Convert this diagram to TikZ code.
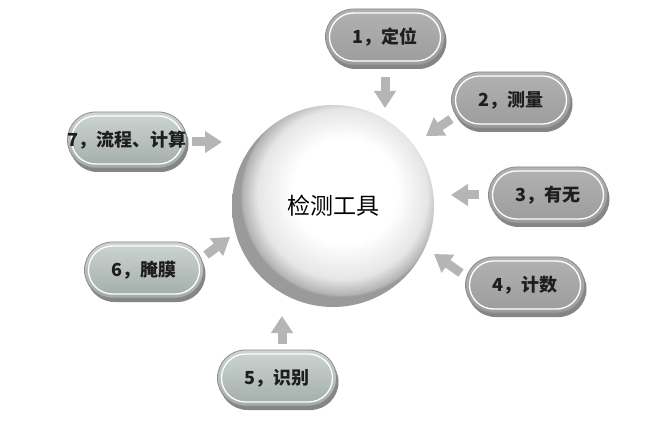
\documentclass[tikz,border=0pt]{standalone}
\usepackage{fontspec}
\newfontfamily\cjk{Noto Sans CJK SC}
\usetikzlibrary{arrows.meta,shadows}
\definecolor{graytop}{HTML}{B2B2B2}
\definecolor{graybot}{HTML}{9C9C9C}
\definecolor{greentop}{HTML}{CDD5D1}
\definecolor{greenbot}{HTML}{A3ADA8}
\definecolor{pillborder}{HTML}{8C8C8C}
\definecolor{shadowgray}{HTML}{858585}
\definecolor{arrowgray}{HTML}{B5B5B5}
\definecolor{ballmid}{HTML}{E6E6E6}
\definecolor{ballrim}{HTML}{9A9A9A}
\definecolor{textdark}{HTML}{1E1E1E}
\pgfdeclareradialshading{ball}{\pgfpoint{4bp}{5bp}}{color(0bp)=(white);color(13bp)=(white);color(21bp)=(ballmid);color(24.5bp)=(ballrim!75!white);color(25bp)=(ballrim);color(50bp)=(ballrim)}
\tikzset{
  pill/.style={rectangle, rounded corners=28pt, minimum width=119pt, minimum height=56pt,
    inner sep=0pt, draw=pillborder, line width=0.8pt, text=textdark,
    font=\cjk\bfseries\fontsize{18}{21}\selectfont,
    drop shadow={shadow xshift=2pt, shadow yshift=-4pt, fill=shadowgray, opacity=1},
    path picture={\draw[white, line width=1.3pt, rounded corners=24pt]
      ([shift={(4pt,4pt)}]path picture bounding box.south west) rectangle
      ([shift={(-4pt,-4pt)}]path picture bounding box.north east);}},
  graypill/.style={pill, top color=graytop, bottom color=graybot},
  greenpill/.style={pill, top color=greentop, bottom color=greenbot},
  blockarrow/.style={draw=arrowgray, line width=9pt,
    -{Triangle[length=17pt, width=21pt]}}
}
\begin{document}
\begin{tikzpicture}[x=1pt, y=-1pt]
\useasboundingbox[fill=white] (0,0) rectangle (652,427);
\node[circle, minimum size=202pt, shading=ball, inner sep=0pt,
  font=\cjk\fontsize{23}{27}\selectfont, text=black] (c) at (333,206) {检测工具};
\node[graypill] (p1) at (385,37) {1，定位};
\node[graypill] (p2) at (511,100) {2，测量};
\node[graypill] (p3) at (548,195) {3，有无};
\node[graypill] (p4) at (525,285) {4，计数};
\node[greenpill] (p5) at (277,378) {5，识别};
\node[greenpill] (p6) at (144,270) {6，腌膜};
\node[greenpill] (p7) at (127,140) {7，流程、计算};
\coordinate (a1s) at (385,77);  \coordinate (a1e) at (385,108);
\coordinate (a2s) at (451,119); \coordinate (a2e) at (426,136);
\coordinate (a3s) at (479,195); \coordinate (a3e) at (451,195);
\coordinate (a4s) at (461,273); \coordinate (a4e) at (434,254);
\coordinate (a5s) at (282,344); \coordinate (a5e) at (282,316);
\coordinate (a6s) at (206,255); \coordinate (a6e) at (230,237);
\coordinate (a7s) at (192,142); \coordinate (a7e) at (222,142);
\draw[blockarrow] (a1s) -- (a1e);
\draw[blockarrow] (a2s) -- (a2e);
\draw[blockarrow] (a3s) -- (a3e);
\draw[blockarrow] (a4s) -- (a4e);
\draw[blockarrow] (a5s) -- (a5e);
\draw[blockarrow] (a6s) -- (a6e);
\draw[blockarrow] (a7s) -- (a7e);
\end{tikzpicture}
\end{document}
